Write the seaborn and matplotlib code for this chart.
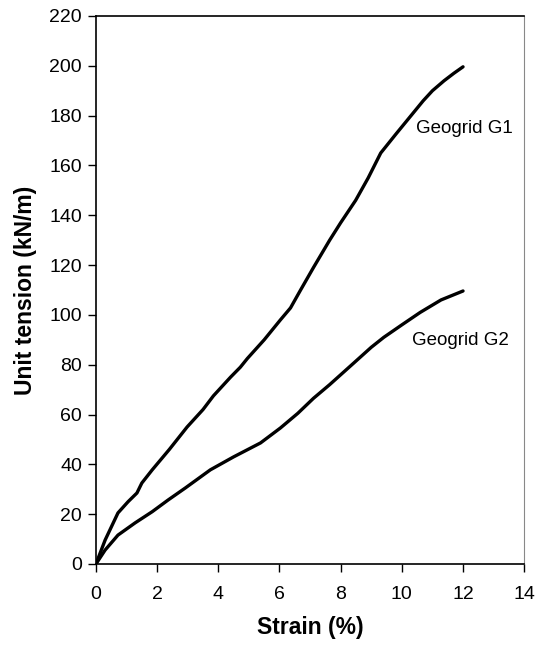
import matplotlib
matplotlib.use("Agg")
import matplotlib.pyplot as plt
import seaborn as sns
import pandas as pd

# Tensile test curves for two geogrids
strain_g1 = [0, 0.3, 0.72, 1.05, 1.34, 1.5, 1.84, 2.4, 2.98, 3.5, 3.84, 4.4, 4.72,
             4.95, 5.5, 6.03, 6.36, 6.69, 7.11, 7.64, 8.0, 8.49, 8.9, 9.31, 9.8,
             10.3, 10.7, 11.0, 11.38, 11.7, 12.0]
tension_g1 = [0, 9.6, 20.5, 25, 28.5, 32.5, 37.8, 46, 55, 62, 67.5, 75, 79,
              82.5, 90, 98, 102.8, 110, 119, 130, 137, 146, 155, 165, 172.5,
              180, 186, 190, 194, 197, 199.6]

strain_g2 = [0, 0.3, 0.72, 1.28, 1.84, 2.36, 2.92, 3.74, 4.5, 5.38, 6.03, 6.6,
             7.11, 7.64, 8.43, 9.0, 9.41, 10.0, 10.6, 11.28, 12.0]
tension_g2 = [0, 5.6, 11.6, 16.5, 21, 25.7, 30.5, 37.8, 43, 48.6, 54.6, 60.5,
              66.5, 72, 80.7, 87, 91, 96, 101, 106, 109.6]

labels = ["Geogrid G1", "Geogrid G2"]
x_ticks = [0, 2, 4, 6, 8, 10, 12, 14]
y_ticks = [0, 20, 40, 60, 80, 100, 120, 140, 160, 180, 200, 220]

df = pd.concat([
    pd.DataFrame({"strain": strain_g1, "tension": tension_g1, "grid": labels[0]}),
    pd.DataFrame({"strain": strain_g2, "tension": tension_g2, "grid": labels[1]}),
], ignore_index=True)

sns.set_style("ticks")
plt.rcParams["font.family"] = ["Liberation Sans", "DejaVu Sans"]
plt.rcParams["text.color"] = "black"
plt.rcParams["axes.labelcolor"] = "black"

fig = plt.figure(figsize=(5.36, 6.45), dpi=100)
ax = fig.add_axes([0.179, 0.1256, 0.799, 0.8496])

sns.lineplot(data=df, x="strain", y="tension", hue="grid", units="grid",
             estimator=None, sort=False, palette=["black", "black"],
             linewidth=2.4, legend=False, ax=ax)

ax.set_xlim(0, 14)
ax.set_ylim(0, 220)
ax.set_xticks(x_ticks)
ax.set_yticks(y_ticks)
ax.tick_params(axis="both", direction="out", length=6, width=1.0,
               labelsize=14, colors="black", labelcolor="black", pad=4)
ax.tick_params(axis="x", pad=10)

for side in ["left", "bottom", "top"]:
    ax.spines[side].set_color("black")
    ax.spines[side].set_linewidth(1.2)
ax.spines["right"].set_color("#888888")
ax.spines["right"].set_linewidth(0.8)

ax.set_xlabel("Strain (%)", fontsize=16.5, fontweight="bold", labelpad=9,
              color="black")
ax.set_ylabel("Unit tension (kN/m)", fontsize=16.5, fontweight="bold",
              labelpad=9, color="black")

ax.text(10.46, 175, labels[0], fontsize=13.5, va="center", ha="left",
        color="black")
ax.text(10.33, 89.6, labels[1], fontsize=13.5, va="center", ha="left",
        color="black")

fig.savefig("out.png", dpi=100)
